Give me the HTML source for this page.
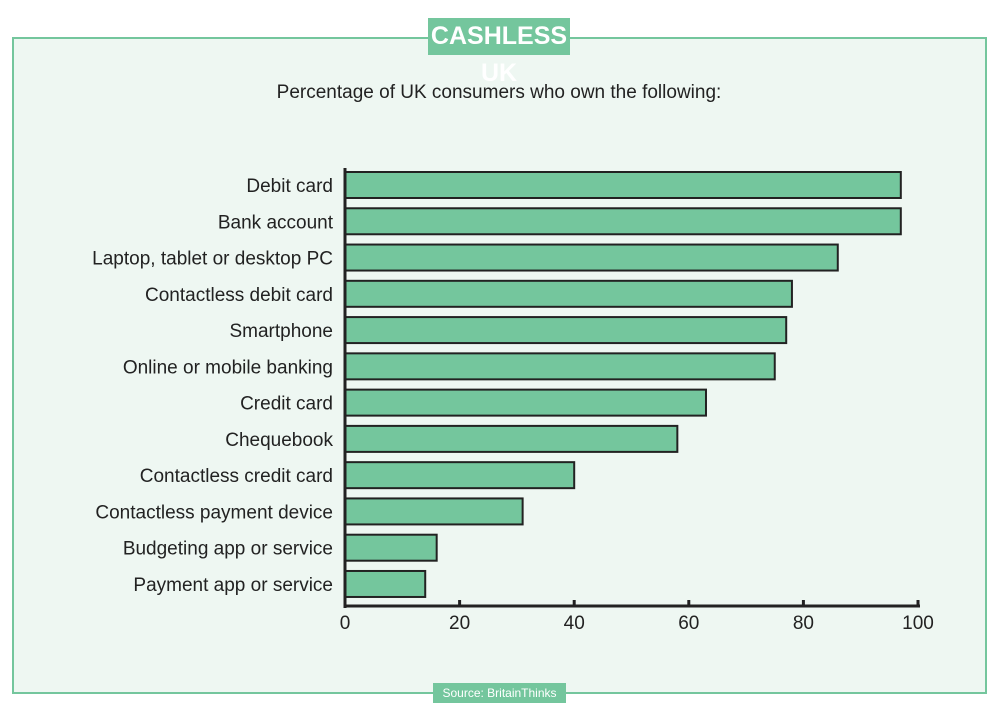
<!DOCTYPE html>
<html><head><meta charset="utf-8"><style>
body{margin:0;width:994px;height:705px;background:#fff;font-family:"Liberation Sans",sans-serif;position:relative;overflow:hidden}
#panel{position:absolute;left:12px;top:37px;width:971px;height:653px;border:2px solid #74c69d;background:#eef7f2}
#title{position:absolute;left:428px;top:18px;width:142px;height:37px;background:#74c69d;color:#fff;font:bold 25px "Liberation Sans Narrow","Liberation Sans",sans-serif;text-align:center;line-height:37px;letter-spacing:0px;transform-origin:center}
#src{position:absolute;left:433px;top:683px;width:133px;height:20px;background:#74c69d;color:#fff;font-size:12px;text-align:center;line-height:20px}
svg{position:absolute;left:0;top:0}
</style></head><body>
<div id="panel"></div>
<div id="title">CASHLESS UK</div>
<div id="src">Source: BritainThinks</div>
<svg id="chart" width="994" height="705">
<text x="499" y="98" text-anchor="middle" font-size="19" fill="#222">Percentage of UK consumers who own the following:</text>
</svg>
<script>
const categories=["Debit card","Bank account","Laptop, tablet or desktop PC","Contactless debit card","Smartphone","Online or mobile banking","Credit card","Chequebook","Contactless credit card","Contactless payment device","Budgeting app or service","Payment app or service"];
const values=[97,97,86,78,77,75,63,58,40,31,16,14];
const ticks=[0,20,40,60,80,100];
const svg=document.getElementById('chart');
const NS='http://www.w3.org/2000/svg';
const x=v=>345+v*5.73;
const y=i=>185+i*36.27;
function mk(t,a){const e=document.createElementNS(NS,t);for(const k in a)e.setAttribute(k,a[k]);svg.appendChild(e);return e;}
categories.forEach((c,i)=>{
 const r=mk('rect',{x:x(0),y:y(i)-13,width:x(values[i])-x(0),height:26,fill:'#74c69d',stroke:'#222','stroke-width':2});
 
 
 const t=mk('text',{x:333,y:y(i)+7,'text-anchor':'end','font-size':19,fill:'#222'});
 t.textContent=c;
 
 
});
const ya=mk('line',{x1:345,y1:168,x2:345,y2:608,stroke:'#222','stroke-width':3});


const xa=mk('line',{x1:344,y1:606,x2:920,y2:606,stroke:'#222','stroke-width':3});


ticks.forEach(v=>{
 const l=mk('line',{x1:x(v),y1:600,x2:x(v),y2:606,stroke:'#222','stroke-width':3});
 
 
 const t=mk('text',{x:x(v),y:629,'text-anchor':'middle','font-size':19,fill:'#222'});
 t.textContent=v;
 
 
});
</script>
</body></html>
